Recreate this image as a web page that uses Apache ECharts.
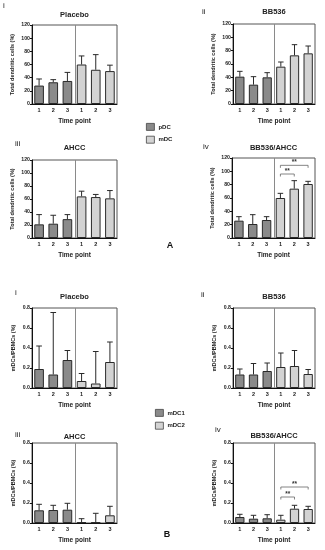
<!DOCTYPE html>
<html><head><meta charset="utf-8">
<script src="https://cdn.jsdelivr.net/npm/echarts@6/dist/echarts.min.js"></script>
<style>html,body{margin:0;padding:0;background:#fff}#c{width:325px;height:550px}</style>
</head><body><div id="c"></div>
<script>
// ---------- DATA ----------
const categories = ['1', '2', '3', '1', '2', '3'];
const yMaxA = 120, yStepA = 20;
const yMaxB = 0.8, yStepB = 0.2;

// Panel A: Total dendritic cells (%), mean and mean+SD (top of error bar)
const A_placebo_pDC = [28, 33, 35],  A_placebo_pDC_top = [38, 37, 48];
const A_placebo_mDC = [60, 52, 50],  A_placebo_mDC_top = [73, 75, 59];
const A_bb536_pDC   = [41, 29, 40],  A_bb536_pDC_top   = [49, 41, 47];
const A_bb536_mDC   = [56, 73, 76],  A_bb536_mDC_top   = [63, 89, 87];
const A_ahcc_pDC    = [21, 22, 29],  A_ahcc_pDC_top    = [36, 35, 36];
const A_ahcc_mDC    = [64, 63, 61],  A_ahcc_mDC_top    = [72, 67, 73];
const A_combo_pDC   = [26, 21, 27],  A_combo_pDC_top   = [32, 35, 32];
const A_combo_mDC   = [60, 74, 81],  A_combo_mDC_top   = [67, 86, 85];
// significance brackets: [from index, to index, level]
const A_combo_sig = [[3, 4, 96], [3, 5, 109]];

// Panel B: mDCs/PBMCs (%)
const B_placebo_mDC1 = [0.19, 0.135, 0.28],  B_placebo_mDC1_top = [0.42, 0.755, 0.375];
const B_placebo_mDC2 = [0.07, 0.045, 0.26],  B_placebo_mDC2_top = [0.145, 0.365, 0.46];
const B_bb536_mDC1   = [0.135, 0.135, 0.17], B_bb536_mDC1_top   = [0.19, 0.245, 0.25];
const B_bb536_mDC2   = [0.21, 0.22, 0.14],   B_bb536_mDC2_top   = [0.35, 0.375, 0.185];
const B_ahcc_mDC1    = [0.127, 0.13, 0.133], B_ahcc_mDC1_top    = [0.187, 0.177, 0.197];
const B_ahcc_mDC2    = [0.01, 0.007, 0.077], B_ahcc_mDC2_top    = [0.043, 0.097, 0.167];
const B_combo_mDC1   = [0.06, 0.043, 0.047], B_combo_mDC1_top   = [0.087, 0.077, 0.083];
const B_combo_mDC2   = [0.033, 0.143, 0.14], B_combo_mDC2_top   = [0.077, 0.177, 0.167];
const B_combo_sig = [[3, 4, 0.26], [3, 5, 0.36]];

// ---------- LAYOUT / STYLE ----------
const DARK = '#8a8a8a', LIGHT = '#d3d3d3', EDGE = '#2a2a2a';
const FONT = 'Liberation Sans, Arial, sans-serif';

const panels = [
  {grid:{left:32, top:25, width:85, height:79}, title:'Placebo', label:'i', lx:3, ly:6, ty:15,
   g1:'pDC', g2:'mDC', v1:A_placebo_pDC, t1:A_placebo_pDC_top, v2:A_placebo_mDC, t2:A_placebo_mDC_top, max:yMaxA, step:yStepA, yname:'Total dendritic cells (%)', sig:[]},
  {grid:{left:233, top:24, width:82, height:80}, title:'BB536', label:'ii', lx:202, ly:12, ty:12,
   g1:'pDC', g2:'mDC', v1:A_bb536_pDC, t1:A_bb536_pDC_top, v2:A_bb536_mDC, t2:A_bb536_mDC_top, max:yMaxA, step:yStepA, yname:'Total dendritic cells (%)', sig:[]},
  {grid:{left:32, top:160, width:85, height:78}, title:'AHCC', label:'iii', lx:15, ly:144, ty:148,
   g1:'pDC', g2:'mDC', v1:A_ahcc_pDC, t1:A_ahcc_pDC_top, v2:A_ahcc_mDC, t2:A_ahcc_mDC_top, max:yMaxA, step:yStepA, yname:'Total dendritic cells (%)', sig:[]},
  {grid:{left:232, top:158, width:83, height:80}, title:'BB536/AHCC', label:'iv', lx:203, ly:147, ty:148,
   g1:'pDC', g2:'mDC', v1:A_combo_pDC, t1:A_combo_pDC_top, v2:A_combo_mDC, t2:A_combo_mDC_top, max:yMaxA, step:yStepA, yname:'Total dendritic cells (%)', sig:A_combo_sig},
  {grid:{left:32, top:308, width:85, height:80}, title:'Placebo', label:'i', lx:15, ly:293, ty:297,
   g1:'mDC1', g2:'mDC2', v1:B_placebo_mDC1, t1:B_placebo_mDC1_top, v2:B_placebo_mDC2, t2:B_placebo_mDC2_top, max:yMaxB, step:yStepB, yname:'mDCs/PBMCs (%)', sig:[]},
  {grid:{left:233, top:308, width:82, height:80}, title:'BB536', label:'ii', lx:201, ly:295, ty:297,
   g1:'mDC1', g2:'mDC2', v1:B_bb536_mDC1, t1:B_bb536_mDC1_top, v2:B_bb536_mDC2, t2:B_bb536_mDC2_top, max:yMaxB, step:yStepB, yname:'mDCs/PBMCs (%)', sig:[]},
  {grid:{left:32, top:443, width:85, height:80}, title:'AHCC', label:'iii', lx:15, ly:435, ty:437,
   g1:'mDC1', g2:'mDC2', v1:B_ahcc_mDC1, t1:B_ahcc_mDC1_top, v2:B_ahcc_mDC2, t2:B_ahcc_mDC2_top, max:yMaxB, step:yStepB, yname:'mDCs/PBMCs (%)', sig:[]},
  {grid:{left:233, top:443, width:82, height:80}, title:'BB536/AHCC', label:'iv', lx:215, ly:430, ty:436,
   g1:'mDC1', g2:'mDC2', v1:B_combo_mDC1, t1:B_combo_mDC1_top, v2:B_combo_mDC2, t2:B_combo_mDC2_top, max:yMaxB, step:yStepB, yname:'mDCs/PBMCs (%)', sig:B_combo_sig},
];

const grids = [], xAxes = [], yAxes = [], series = [], graphics = [];

function errRender(params, api) {
  const x = api.value(0), m = api.value(1), t = api.value(2);
  const p0 = api.coord([x, m]), p1 = api.coord([x, t]);
  const w = api.size([1, 0])[0] * 0.2;
  return {type:'group', children:[
    {type:'line', shape:{x1:p0[0], y1:p0[1], x2:p1[0], y2:p1[1]}, style:{stroke:EDGE, lineWidth:1}},
    {type:'line', shape:{x1:p1[0]-w, y1:p1[1], x2:p1[0]+w, y2:p1[1]}, style:{stroke:EDGE, lineWidth:1}}
  ]};
}
function sepRender(params, api) {
  const a = api.coord([2, 0]), b = api.coord([3, 0]);
  const cs = params.coordSys;
  const x = Math.round((a[0] + b[0]) / 2) + 0.5;
  return {type:'line', shape:{x1:x, y1:cs.y, x2:x, y2:cs.y + cs.height}, style:{stroke:'#8a8a8a', lineWidth:1}};
}
function sigRender(params, api) {
  const i1 = api.value(0), i2 = api.value(1), y = api.value(2);
  const p1 = api.coord([i1, y]), p2 = api.coord([i2, y]);
  const d = 2.5;
  return {type:'group', children:[
    {type:'polyline', shape:{points:[[p1[0], p1[1]+d], [p1[0], p1[1]], [p2[0], p2[1]], [p2[0], p2[1]+d]]}, style:{stroke:'#666', lineWidth:0.8, fill:null}},
    {type:'text', x:(p1[0]+p2[0])/2, y:p1[1]+0.5, style:{text:'**', fontSize:6.5, fontWeight:'bold', fontFamily:FONT, fill:'#333', align:'center', verticalAlign:'bottom'}}
  ]};
}

panels.forEach((p, i) => {
  grids.push(Object.assign({show:true, borderColor:'#555', borderWidth:1, containLabel:false}, p.grid));
  const isB = p.max < 1;
  xAxes.push({type:'category', gridIndex:i, data:categories,
    axisLine:{lineStyle:{color:'#111', width:1}},
    axisTick:{alignWithLabel:true, length:2, lineStyle:{color:'#111'}},
    axisLabel:{fontSize:5.5, fontWeight:'bold', fontFamily:FONT, color:'#222', margin:3},
    name:'Time point', nameLocation:'middle', nameGap:14,
    nameTextStyle:{fontSize:6.5, fontWeight:'bold', fontFamily:FONT, color:'#222'}});
  yAxes.push({type:'value', gridIndex:i, min:0, max:p.max, interval:p.step,
    axisLine:{show:true, lineStyle:{color:'#111', width:1}},
    axisTick:{show:true, length:2, lineStyle:{color:'#111'}},
    splitLine:{show:false},
    axisLabel:{fontSize:5.2, fontWeight:'bold', fontFamily:FONT, color:'#222', margin:2,
      formatter: v => isB ? v.toFixed(1) : String(v)},
    name:p.yname, nameLocation:'middle', nameRotate:90, nameGap: isB ? 16 : 17,
    nameTextStyle:{fontSize:5.5, fontWeight:'bold', fontFamily:FONT, color:'#222'}});
  const d1 = p.v1.concat(['-', '-', '-']);
  const d2 = ['-', '-', '-'].concat(p.v2);
  series.push({type:'bar', name:p.g1, xAxisIndex:i, yAxisIndex:i, data:d1, barWidth:'68%', barGap:'-100%',
    itemStyle:{color:DARK, borderColor:EDGE, borderWidth:1}, z:2});
  series.push({type:'bar', name:p.g2, xAxisIndex:i, yAxisIndex:i, data:d2, barWidth:'68%', barGap:'-100%',
    itemStyle:{color:LIGHT, borderColor:EDGE, borderWidth:1}, z:2});
  const errData = [];
  p.v1.forEach((v, k) => errData.push([k, v, p.t1[k]]));
  p.v2.forEach((v, k) => errData.push([k + 3, v, p.t2[k]]));
  series.push({type:'custom', xAxisIndex:i, yAxisIndex:i, data:errData, renderItem:errRender, z:3, silent:true});
  series.push({type:'custom', xAxisIndex:i, yAxisIndex:i, data:[[0, 0]], renderItem:sepRender, z:4, silent:true});
  if (p.sig.length) {
    series.push({type:'custom', xAxisIndex:i, yAxisIndex:i, data:p.sig, renderItem:sigRender, z:5, silent:true,
      encode:{x:[0, 1], y:2}});
  }
  const cx = p.grid.left + p.grid.width / 2;
  graphics.push({type:'text', x:cx, y:p.ty, style:{text:p.title, fontSize:7.5, fontWeight:'bold', fontFamily:FONT, fill:'#222', align:'center', verticalAlign:'middle'}});
  graphics.push({type:'text', x:p.lx, y:p.ly, style:{text:p.label, fontSize:8, fontFamily:FONT, fill:'#222', align:'left', verticalAlign:'middle'}});
});

graphics.push({type:'text', x:170, y:246, style:{text:'A', fontSize:9, fontWeight:'bold', fontFamily:FONT, fill:'#111', align:'center', verticalAlign:'middle'}});
graphics.push({type:'text', x:167, y:535, style:{text:'B', fontSize:9, fontWeight:'bold', fontFamily:FONT, fill:'#111', align:'center', verticalAlign:'middle'}});

const legendBase = {orient:'vertical', icon:'rect', itemWidth:8, itemHeight:7, itemGap:5, selectedMode:false,
  itemStyle:{borderColor:'#444', borderWidth:0.8},
  textStyle:{fontSize:6, fontWeight:'bold', fontFamily:FONT, color:'#222', padding:[0,0,0,-1]}, padding:0};

const chart = echarts.init(document.getElementById('c'), null, {renderer:'canvas'});
chart.setOption({
  animation:false,
  backgroundColor:'#fff',
  grid:grids, xAxis:xAxes, yAxis:yAxes, series:series,
  legend:[
    Object.assign({}, legendBase, {data:['pDC', 'mDC'], left:146, top:123}),
    Object.assign({}, legendBase, {data:['mDC1', 'mDC2'], left:155, top:409})
  ],
  graphic:graphics
});
</script></body></html>
